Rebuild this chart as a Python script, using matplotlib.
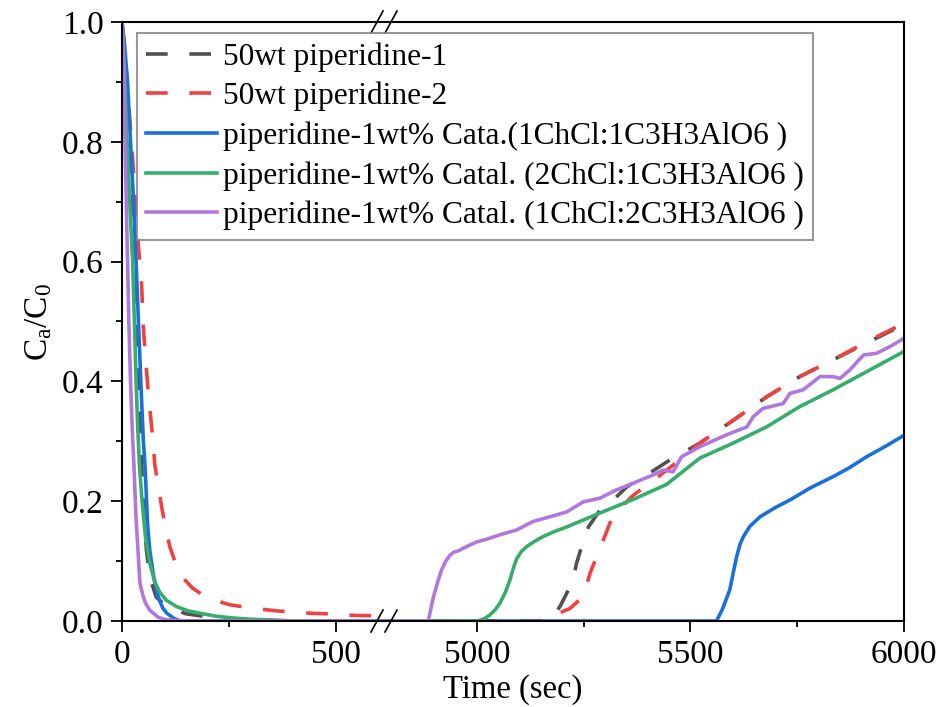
import matplotlib
matplotlib.use("Agg")
import matplotlib.pyplot as plt
from matplotlib.lines import Line2D
from matplotlib.ticker import MultipleLocator

plt.rcParams["font.family"] = ["Liberation Serif", "DejaVu Serif"]
plt.rcParams["mathtext.fontset"] = "stix"

# --- data (time in sec, C/C0) ---
t_black = [0, 5, 10, 15, 20, 26, 32, 38, 45, 50, 57, 65, 80, 105, 150, 220, 300, 400, 618,
           4787, 5150, 5178, 5195, 5210, 5225, 5233, 5245, 5261, 5288, 5319, 5351, 5400,
           5450, 5522, 5600, 5678, 5756, 5834, 5912, 6000]
c_black = [1.0, 0.95, 0.88, 0.80, 0.70, 0.60, 0.49, 0.40, 0.28, 0.19, 0.12, 0.073, 0.04,
           0.024, 0.012, 0.005, 0.002, 0.0, 0.0,
           0.0, 0.0, 0.007, 0.025, 0.046, 0.068, 0.096, 0.124, 0.157, 0.185, 0.202, 0.224,
           0.245, 0.268, 0.297, 0.335, 0.374, 0.408, 0.436, 0.464, 0.495]

t_red = [0, 8, 17, 28, 38, 46, 50, 55, 62, 70, 77, 85, 93, 102, 112, 125, 140, 165, 190,
         220, 253, 290, 323, 360, 400, 440, 479, 520, 561, 600,
         4787, 5143, 5171, 5195, 5218, 5249, 5265, 5280, 5296, 5311, 5335, 5366, 5405,
         5450, 5522, 5600, 5678, 5756, 5834, 5912, 6000]
c_red = [1.0, 0.94, 0.85, 0.74, 0.63, 0.56, 0.49, 0.44, 0.377, 0.32, 0.26, 0.225, 0.19,
         0.155, 0.124, 0.097, 0.074, 0.055, 0.043, 0.034, 0.027, 0.023, 0.020, 0.017,
         0.015, 0.013, 0.012, 0.010, 0.009, 0.009,
         0.0, 0.0, 0.007, 0.014, 0.021, 0.041, 0.08, 0.107, 0.135, 0.163, 0.188, 0.21,
         0.23, 0.255, 0.297, 0.335, 0.374, 0.408, 0.436, 0.466, 0.497]

t_blue = [0, 5, 13, 20, 27, 33, 39, 44, 50, 54, 60, 65, 75, 85, 95, 105, 120, 136, 618,
          4787, 5561, 5575, 5592, 5600, 5608, 5616, 5624, 5639, 5663, 5700, 5733, 5780,
          5834, 5870, 5912, 5960, 6000]
c_blue = [1.0, 0.97, 0.9, 0.8, 0.70, 0.6, 0.49, 0.4, 0.30, 0.258, 0.16, 0.118, 0.07, 0.04,
          0.022, 0.013, 0.005, 0.0, 0.0,
          0.0, 0.0, 0.02, 0.052, 0.08, 0.107, 0.128, 0.141, 0.158, 0.174, 0.19, 0.202,
          0.222, 0.241, 0.255, 0.274, 0.293, 0.31]

t_green = [0, 5, 12, 18, 25, 29, 33, 37, 41, 47, 55, 65, 77, 89, 105, 128, 155, 182, 220,
           260, 300, 339, 400, 618,
           4787, 5003, 5018, 5030, 5043, 5054, 5066, 5077, 5086, 5093, 5104, 5116, 5135,
           5155, 5180, 5210, 5257, 5304, 5366, 5444, 5522, 5600, 5678, 5756, 5834, 5912,
           6000]
c_green = [1.0, 0.93, 0.8, 0.7, 0.6, 0.5, 0.4, 0.32, 0.258, 0.2, 0.14, 0.097, 0.065, 0.047,
           0.034, 0.024, 0.017, 0.013, 0.008, 0.005, 0.003, 0.002, 0.0, 0.0,
           0.0, 0.0, 0.004, 0.01, 0.019, 0.03, 0.047, 0.068, 0.09, 0.104, 0.116, 0.124,
           0.133, 0.141, 0.149, 0.157, 0.171, 0.185, 0.203, 0.228, 0.272, 0.297, 0.324,
           0.358, 0.386, 0.416, 0.45]

t_purple = [0, 3, 5, 7, 10, 13, 16, 20, 24, 28, 33, 42, 50, 55, 65, 85, 105, 150, 618,
            4787, 4886, 4892, 4898, 4908, 4917, 4927, 4937, 4946, 4956, 4975, 4999, 5025,
            5054, 5093, 5131, 5171, 5210, 5249, 5288, 5327, 5366, 5382, 5410, 5436, 5459,
            5479, 5522, 5585, 5632, 5647, 5670, 5717, 5733, 5764, 5803, 5834, 5850, 5873,
            5905, 5936, 5967, 6000]
c_purple = [1.0, 0.95, 0.9, 0.8, 0.7, 0.6, 0.5, 0.4, 0.32, 0.258, 0.17, 0.063, 0.04, 0.03,
            0.018, 0.006, 0.002, 0.0, 0.0,
            0.0, 0.0, 0.02, 0.04, 0.065, 0.085, 0.10, 0.11, 0.115, 0.117, 0.124, 0.132,
            0.137, 0.144, 0.152, 0.166, 0.174, 0.182, 0.199, 0.205, 0.219, 0.23, 0.235,
            0.243, 0.252, 0.249, 0.274, 0.291, 0.311, 0.324, 0.341, 0.355, 0.363, 0.38,
            0.386, 0.408, 0.408, 0.405, 0.419, 0.444, 0.447, 0.458, 0.472]

labels = ["50wt piperidine-1",
          "50wt piperidine-2",
          "piperidine-1wt% Cata.(1ChCl:1C3H3AlO6 )",
          "piperidine-1wt% Catal. (2ChCl:1C3H3AlO6 )",
          "piperidine-1wt% Catal. (1ChCl:2C3H3AlO6 )"]
colors = ["#515151", "#F14040", "#1A6FDF", "#37AD6B", "#B177DE"]
styles = ["dash", "dash", "solid", "solid", "solid"]

series = [(t_black, c_black), (t_red, c_red), (t_blue, c_blue),
          (t_green, c_green), (t_purple, c_purple)]

W, H = 938, 707
fig = plt.figure(figsize=(W / 100, H / 100), dpi=100)

# axes box in pixels: x 122..904, y 22..621, break at 386
x0, xb, x1 = 122, 386, 904
yt, yb = 22, 621
ax1 = fig.add_axes([x0 / W, 1 - yb / H, (xb - x0) / W, (yb - yt) / H])
ax2 = fig.add_axes([xb / W, 1 - yb / H, (x1 - xb) / W, (yb - yt) / H])

handles = []
for (t, c), col, st, lab in zip(series, colors, styles, labels):
    for ax in (ax1, ax2):
        ln, = ax.plot(t, c, color=col, lw=2.6, label=lab)
        if st == "dash":
            ln.set_dashes((6, 6))
    handles.append(ln)

ax1.set_xlim(0, 618)
ax2.set_xlim(4787, 6000)
for ax in (ax1, ax2):
    ax.set_ylim(0, 1.0)
    for s in ax.spines.values():
        s.set_linewidth(1.5)
    ax.tick_params(which="major", direction="out", length=8, width=1.3, labelsize=24, pad=5)
    ax.tick_params(which="minor", direction="out", length=4, width=1.3)

ax1.spines["right"].set_visible(False)
ax2.spines["left"].set_visible(False)
ax2.tick_params(axis="y", which="both", left=False, labelleft=False)

ax1.xaxis.set_major_locator(MultipleLocator(500))
ax1.xaxis.set_minor_locator(MultipleLocator(250))
ax2.xaxis.set_major_locator(MultipleLocator(500))
ax2.xaxis.set_minor_locator(MultipleLocator(250))
ax1.yaxis.set_major_locator(MultipleLocator(0.2))
ax1.yaxis.set_minor_locator(MultipleLocator(0.1))
ax1.yaxis.set_major_formatter(plt.FuncFormatter(lambda v, p: f"{v:.1f}"))

ax1.set_ylabel(r"$\mathregular{C_a/C_0}$", fontsize=24, labelpad=6)
fig.text((x0 + x1) / 2 / W, 1 - 690 / H, "Time (sec)", fontsize=23.5,
         ha="center", va="center")

# break marks on bottom and top spines
for xc in (377, 391):
    for yc in (yb, yt):
        fig.add_artist(Line2D([(xc - 6) / W, (xc + 6) / W],
                              [1 - (yc + 11) / H, 1 - (yc - 11) / H],
                              color="black", lw=1.2))

leg = fig.legend(handles=handles, loc="upper left",
                 bbox_to_anchor=(137 / W, 1 - 33 / H), fontsize=22.6,
                 frameon=True, fancybox=False, edgecolor="#7f7f7f",
                 borderpad=0.3, labelspacing=0.32, handlelength=2.25,
                 handletextpad=0.18, borderaxespad=0)
leg.get_frame().set_linewidth(1.5)

fig.savefig("out.png", dpi=100)
